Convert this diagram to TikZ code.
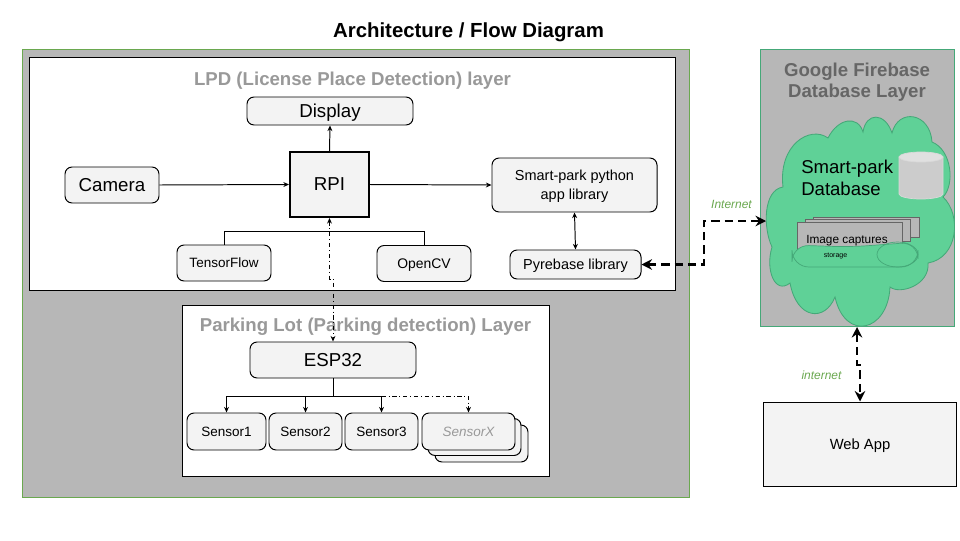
\documentclass[tikz,border=0pt]{standalone}
\usepackage{fontspec}
\setmainfont{Liberation Sans}
\usetikzlibrary{arrows.meta,shapes.geometric}
\definecolor{panel}{HTML}{B7B7B7}
\definecolor{soft}{HTML}{F3F3F3}
\definecolor{cloudgreen}{HTML}{5FD197}
\definecolor{cloudline}{HTML}{45A878}
\definecolor{labelgreen}{HTML}{6AA84F}
\tikzset{
  txtsize/.style 2 args={font=\fontsize{#1}{#2}\selectfont},
  boxnode/.style={draw=black,line width=0.7pt,rounded corners=5pt,fill=soft,
                  inner sep=0pt,align=center,text depth=0pt},
  layer/.style={draw=black,line width=0.7pt,fill=white},
  layertitle/.style={text=black!40,text depth=0pt,font=\fontsize{13.25}{15}\selectfont\bfseries},
  wire/.style={line width=0.7pt,-{Stealth[length=4pt,width=3.5pt]}},
  bothwire/.style={line width=0.7pt,{Stealth[length=4pt,width=3.5pt]}-{Stealth[length=4pt,width=3.5pt]}},
  netwire/.style={line width=1.5pt,dash pattern=on 6pt off 3.5pt,
                  {Stealth[length=7.5pt,width=7.5pt,inset=2.5pt]}-{Stealth[length=7.5pt,width=7.5pt,inset=2.5pt]}},
  netlabel/.style={text=labelgreen,font=\fontsize{8.5}{10}\selectfont\itshape}
}
\begin{document}
\begin{tikzpicture}[x=0.025cm,y=-0.025cm]
  \useasboundingbox (0,0) rectangle (960,540);
  \fill[white] (0,0) rectangle (960,540);

  % title
  \node[text depth=0pt,font=\fontsize{14.5}{17}\selectfont\bfseries] (title) at (468.5,30) {Architecture / Flow Diagram};

  % gray panels
  \path[fill=panel,draw=labelgreen,line width=0.6pt] (22,49) rectangle (689,497);
  \path[fill=panel,draw=cloudline,line width=0.6pt] (760,49) rectangle (954,326);
  \path[layer] (29,57) rectangle (675,290);
  \path[layer] (182,305) rectangle (549,476);
  \node[layertitle] (lpdtitle) at (352.5,79) {LPD (License Place Detection) layer};
  \node[layertitle] (lottitle) at (365.5,325) {Parking Lot (Parking detection) Layer};
  \node[layertitle,text=black!60,align=center] (fbtitle) at (857,80.5) {Google Firebase\\Database Layer};

  % cloud
  \coordinate (cloudw) at (766,221);
  \coordinate (clouds) at (857,327);
  \path[fill=cloudgreen,draw=cloudline,line width=0.6pt]
    (783,187) .. controls (778,145) and (810,125) .. (828,138)
    .. controls (838,118) and (858,115) .. (863,132)
    .. controls (866,112) and (885,112) .. (892,133)
    .. controls (898,108) and (930,112) .. (932,142)
    .. controls (952,150) and (955,185) .. (943,197)
    .. controls (962,215) and (958,258) .. (928,263)
    .. controls (930,285) and (900,295) .. (890,287)
    .. controls (888,332) and (845,342) .. (835,297)
    .. controls (825,322) and (797,320) .. (790,283)
    .. controls (775,295) and (765,270) .. (772,247)
    .. controls (763,228) and (763,190) .. (783,187) -- cycle;
  \node[align=left,anchor=north west,txtsize={13.2}{15.7},inner sep=0pt] (dbname) at (801,160) {Smart-park\\Database};

  % database drum
  \path[fill=black!20,draw=black!15,line width=0.5pt] (899,157) -- (899,194)
    arc[start angle=180,end angle=360,x radius=0.55cm,y radius=0.125cm] -- (943,157) -- cycle;
  \path[fill=black!12,draw=black!15,line width=0.5pt] (921,157) circle[x radius=0.55cm,y radius=0.125cm];

  % image captures
  \path[fill=panel,draw=black!60,line width=0.4pt] (813,217) rectangle (919,237);
  \path[fill=panel,draw=black!60,line width=0.4pt] (805,219) rectangle (910,241);
  \path[fill=panel,draw=black!60,line width=0.4pt] (797,222) rectangle (902,250);
  \path[fill=cloudgreen,draw=cloudline,line width=0.5pt,rounded corners=12pt] (792,245) -- (850,247) -- (918,242) -- (918,267) -- (792,267) -- cycle;
  \node[ellipse,draw=cloudline,line width=0.5pt,inner sep=0pt,minimum width=41*0.025cm,minimum height=25*0.025cm] (drumend) at (897.5,254.5) {};
  \node[txtsize={8.4}{10},inner sep=0pt,text depth=0pt] (captures) at (847,239) {Image captures};
  \node[txtsize={5}{6},inner sep=0pt,text depth=0pt] (storage) at (835.5,255) {storage};

  % web app
  \node[draw=black,line width=0.7pt,fill=soft,minimum width=193*0.025cm,minimum height=84*0.025cm,
        txtsize={10.5}{12},inner sep=0pt,text depth=0pt] (webapp) at (860,444) {Web App};

  % lpd layer
  \node[boxnode,minimum width=166*0.025cm,minimum height=28*0.025cm,txtsize={13.3}{15}] (display) at (330,111) {Display};
  \node[boxnode,rounded corners=0pt,line width=1.4pt,minimum width=79*0.025cm,minimum height=65*0.025cm,txtsize={13.3}{15}] (rpi) at (329.5,184.5) {RPI};
  \node[boxnode,minimum width=94*0.025cm,minimum height=36*0.025cm,txtsize={13.3}{15}] (camera) at (112,185) {Camera};
  \node[boxnode,minimum width=165*0.025cm,minimum height=54*0.025cm,txtsize={10.3}{13.5}] (smartpark) at (574.5,185) {Smart-park python\\app library};
  \node[boxnode,minimum width=94*0.025cm,minimum height=36*0.025cm,txtsize={9.6}{12}] (tensorflow) at (224,263) {TensorFlow};
  \node[boxnode,minimum width=94*0.025cm,minimum height=36*0.025cm,txtsize={9.9}{12}] (opencv) at (424,263.5) {OpenCV};
  \node[boxnode,minimum width=131*0.025cm,minimum height=29*0.025cm,txtsize={10.3}{12}] (pyrebase) at (575.5,264.5) {Pyrebase library};

  % parking layer
  \node[boxnode,minimum width=166*0.025cm,minimum height=36*0.025cm,txtsize={13.3}{15}] (esp) at (333,360) {ESP32};
  \node[boxnode,minimum width=79*0.025cm,minimum height=37*0.025cm,txtsize={9.6}{11}] (sensora) at (226.5,431.5) {Sensor1};
  \node[boxnode,minimum width=73*0.025cm,minimum height=37*0.025cm,txtsize={9.6}{11}] (sensorb) at (305.5,431.5) {Sensor2};
  \node[boxnode,minimum width=73*0.025cm,minimum height=37*0.025cm,txtsize={9.6}{11}] (sensorc) at (381.5,431.5) {Sensor3};
  \node[boxnode,minimum width=93*0.025cm,minimum height=37*0.025cm] (sensorz) at (481.5,443.5) {};
  \node[boxnode,minimum width=93*0.025cm,minimum height=37*0.025cm] (sensory) at (474.5,437) {};
  \node[boxnode,minimum width=93*0.025cm,minimum height=37*0.025cm,text=black!40,font=\fontsize{9.6}{11}\selectfont\itshape] (sensorx) at (468.5,431.5) {SensorX};

  % joints
  \coordinate (rpijoin) at (329.5,231);
  \coordinate (espjog) at (333,279);
  \coordinate (espbus) at (333,396);
  \coordinate (netbend) at (704,221);
  \coordinate (webjog) at (860,365);

  % connectors
  \draw[wire] (rpi.north) -- (display.south);
  \draw[wire] (camera.east) -- (rpi.west);
  \draw[wire] (rpi.east) -- (smartpark.west);
  \draw[line width=0.7pt] (tensorflow.north) |- (rpijoin);
  \draw[line width=0.7pt] (opencv.north) |- (rpijoin);
  \draw[bothwire] (smartpark.south) -- (pyrebase.north);
  \draw[bothwire,dash dot] (rpi.south) |- (espjog) -- (esp.north);
  \draw[line width=0.7pt] (esp.south) -- (espbus);
  \draw[wire] (espbus) -| (sensora.north);
  \draw[wire] (espbus) -| (sensorb.north);
  \draw[wire] (espbus) -| (sensorc.north);
  \draw[wire,dash dot,-{Stealth[length=4pt,width=3.5pt,open]}] (sensorc.north |- espbus) -| (sensorx.north);
  \draw[netwire] (pyrebase.east) -| (netbend) -- (cloudw);
  \draw[netwire] (clouds) |- (webjog) -- (webapp.north);

  % labels
  \node[netlabel] (inetup) at (731.5,204.5) {Internet};
  \node[netlabel] (inetlow) at (821.5,375.5) {internet};
\end{tikzpicture}
\end{document}
